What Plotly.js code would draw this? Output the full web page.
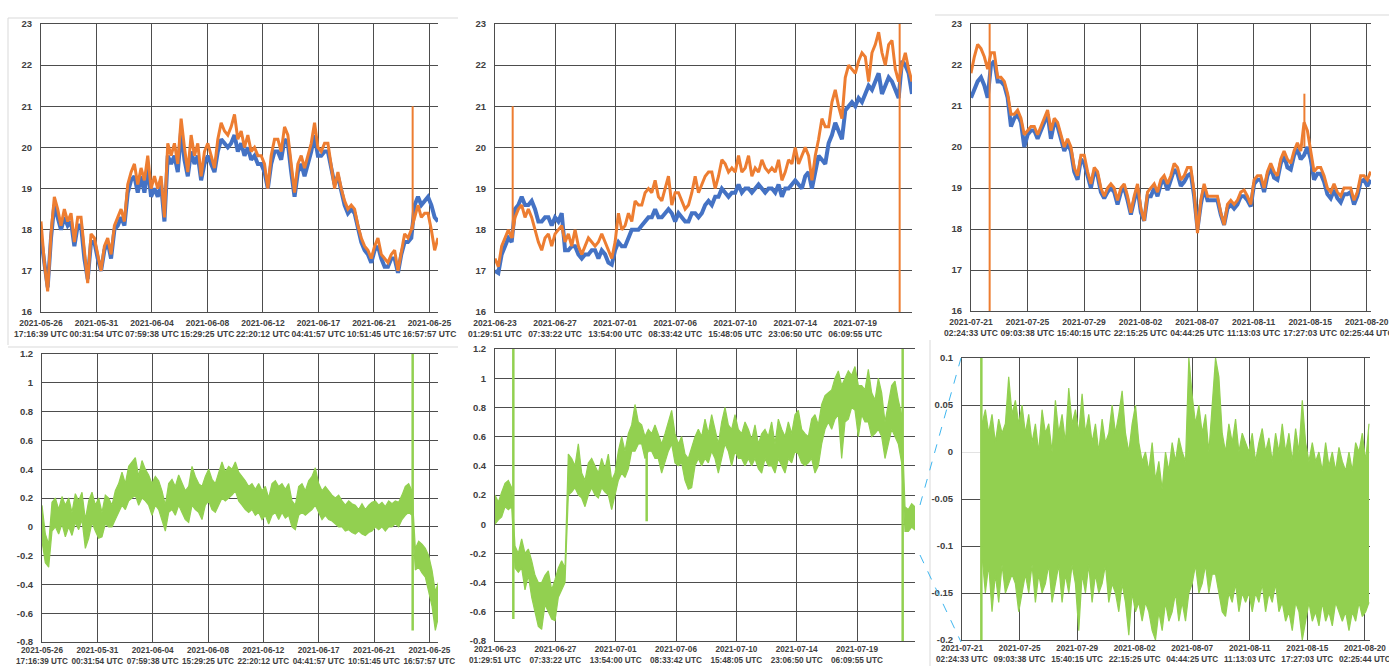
<!DOCTYPE html>
<html><head><meta charset="utf-8">
<script src="https://cdn.plot.ly/plotly-3.0.1.min.js"></script>
<style>html,body{margin:0;padding:0;background:#fff;}#chart{width:1389px;height:666px;}</style>
</head><body><div id="chart"></div>
<script>
// ---------- tick labels ----------
const xLabelsA = ["2021-05-26<br>17:16:39 UTC","2021-05-31<br>00:31:54 UTC","2021-06-04<br>07:59:38 UTC","2021-06-08<br>15:29:25 UTC","2021-06-12<br>22:20:12 UTC","2021-06-17<br>04:41:57 UTC","2021-06-21<br>10:51:45 UTC","2021-06-25<br>16:57:57 UTC"];
const xLabelsB = ["2021-06-23<br>01:29:51 UTC","2021-06-27<br>07:33:22 UTC","2021-07-01<br>13:54:00 UTC","2021-07-06<br>08:33:42 UTC","2021-07-10<br>15:48:05 UTC","2021-07-14<br>23:06:50 UTC","2021-07-19<br>06:09:55 UTC"];
const xLabelsC = ["2021-07-21<br>02:24:33 UTC","2021-07-25<br>09:03:38 UTC","2021-07-29<br>15:40:15 UTC","2021-08-02<br>22:15:25 UTC","2021-08-07<br>04:44:25 UTC","2021-08-11<br>11:13:03 UTC","2021-08-15<br>17:27:03 UTC","2021-08-20<br>02:25:44 UTC"];
const yTempVals = [16,17,18,19,20,21,22,23];
const yTempText = ["16","17","18","19","20","21","22","23"];
const yDiffVals = [-0.8,-0.6,-0.4,-0.2,0,0.2,0.4,0.6,0.8,1,1.2];
const yDiffText = ["-0.8","-0.6","-0.4","-0.2","0","0.2","0.4","0.6","0.8","1","1.2"];
const yZoomVals = [-0.2,-0.15,-0.1,-0.05,0,0.05,0.1];
const yZoomText = ["-0.2","-0.15","-0.1","-0.05","0","0.05","0.1"];

// ---------- chart 1 (2021-05-26 .. 2021-06-25) ----------
const orange1 = [18.2,17.2,16.5,17.9,18.8,18.5,18.1,18.5,18.2,18.4,
 17.7,18.3,18.3,17.4,16.7,17.9,17.8,17.4,17.0,17.6,
 17.8,17.4,18.1,18.3,18.5,18.2,19.1,19.4,19.6,19.1,
 19.5,19.2,19.8,19.0,19.3,19.0,19.3,18.3,20.1,19.8,
 20.1,19.6,20.7,20.0,19.4,20.3,19.8,20.1,19.3,19.9,
 20.1,19.8,19.5,20.2,20.6,20.4,20.3,20.5,20.8,20.2,
 20.4,20.0,20.3,19.9,20.0,19.8,19.8,19.6,19.0,19.8,
 20.2,20.2,19.9,20.5,20.3,19.6,18.9,19.6,19.8,19.5,
 19.8,20.1,20.6,20.0,19.9,20.1,20.1,19.6,19.0,19.4,
 19.0,18.7,18.5,18.6,18.5,18.1,17.8,17.6,17.5,17.3,
 17.6,17.8,17.4,17.3,17.2,17.4,17.5,17.0,17.5,17.9,
 17.8,18.0,18.3,18.6,18.3,18.4,18.4,18.0,17.5,17.8];
const blue1 = [17.8,17.1,16.6,17.8,18.6,18.3,18.0,18.3,18.1,18.2,
 17.6,18.1,18.1,17.3,16.8,17.7,17.7,17.3,17.0,17.5,
 17.7,17.3,18.0,18.1,18.3,18.1,18.9,19.2,19.3,18.9,
 19.3,18.9,19.5,18.8,19.0,18.8,19.1,18.2,19.8,19.6,
 19.8,19.4,20.4,19.7,19.3,19.9,19.6,19.8,19.2,19.6,
 19.8,19.6,19.4,19.9,20.2,20.1,20.0,20.1,20.3,19.9,
 20.1,19.8,20.0,19.7,19.8,19.6,19.6,19.4,19.0,19.6,
 19.9,19.9,19.7,20.2,20.1,19.4,18.8,19.4,19.6,19.3,
 19.6,19.9,20.3,19.8,19.8,19.9,19.9,19.5,19.1,19.3,
 18.9,18.6,18.4,18.5,18.4,18.0,17.7,17.5,17.4,17.2,
 17.5,17.6,17.3,17.1,17.1,17.3,17.3,16.95,17.4,17.7,
 17.7,17.8,18.6,18.8,18.6,18.7,18.8,18.6,18.3,18.2];
const orangeSpike1Pos = [111.4], orangeSpike1Lo = [18.0], orangeSpike1Hi = [21.0];

// ---------- chart 4 (difference, same period as chart 1) ----------
const diffHi1 = [0.15,-0.05,-0.12,0.17,0.20,0.12,0.21,0.15,0.20,0.10,
 0.23,0.18,0.24,0.05,0.18,0.24,0.15,0.20,0.10,0.22,
 0.20,0.15,0.25,0.30,0.38,0.30,0.42,0.45,0.48,0.35,
 0.46,0.40,0.36,0.30,0.35,0.32,0.25,0.15,0.30,0.33,
 0.28,0.36,0.30,0.25,0.28,0.42,0.35,0.30,0.28,0.35,
 0.40,0.33,0.30,0.38,0.45,0.38,0.42,0.40,0.45,0.38,
 0.35,0.32,0.28,0.30,0.26,0.30,0.25,0.28,0.20,0.30,
 0.32,0.28,0.30,0.26,0.30,0.18,0.15,0.28,0.30,0.25,
 0.32,0.35,0.41,0.30,0.25,0.28,0.25,0.22,0.20,0.22,
 0.18,0.15,0.18,0.16,0.15,0.12,0.16,0.12,0.15,0.17,
 0.18,0.15,0.17,0.14,0.18,0.16,0.18,0.17,0.22,0.28,
 0.30,0.25,-0.15,-0.10,-0.12,-0.15,-0.20,-0.30,-0.45,-0.38];
const diffLo1 = [-0.10,-0.25,-0.28,-0.03,0.00,-0.05,0.02,-0.07,0.00,-0.06,
 0.03,-0.02,0.05,-0.15,-0.08,0.03,-0.03,-0.08,-0.07,0.02,
 0.00,0.00,0.05,0.10,0.15,0.12,0.18,0.20,0.22,0.15,
 0.20,0.18,0.15,0.08,0.15,0.12,0.05,-0.03,0.10,0.12,
 0.08,0.15,0.10,0.05,0.03,0.15,0.12,0.10,0.05,0.15,
 0.18,0.12,0.10,0.15,0.20,0.18,0.20,0.22,0.25,0.18,
 0.15,0.12,0.10,0.12,0.08,0.10,0.05,0.08,0.02,0.08,
 0.10,0.05,0.10,0.06,0.08,0.00,-0.02,0.08,0.10,0.08,
 0.10,0.12,0.15,0.10,0.05,0.08,0.05,0.04,0.02,0.00,
 0.00,-0.03,-0.02,-0.04,-0.05,-0.03,-0.05,-0.06,-0.04,-0.03,
 0.00,-0.02,0.00,-0.03,0.00,0.00,0.02,0.00,0.05,0.08,
 0.10,0.08,-0.30,-0.28,-0.32,-0.35,-0.45,-0.55,-0.72,-0.62];
const diffSpike1Pos = [111.2], diffSpike1Lo = [-0.72], diffSpike1Hi = [1.2];

// ---------- chart 2 (2021-06-23 .. 2021-07-21) ----------
const orange2 = [17.3,17.1,17.6,17.8,18.0,17.8,18.3,18.5,18.6,18.3,
 18.5,18.3,18.0,17.7,17.5,17.8,17.9,17.6,17.9,18.0,
 18.1,17.7,17.9,17.6,18.0,17.6,17.4,17.6,17.8,17.7,
 17.6,17.7,17.9,17.7,17.5,17.3,17.7,18.4,18.0,18.1,
 18.4,18.2,18.7,18.6,18.6,18.9,19.0,18.9,19.2,18.8,
 18.7,19.0,19.3,18.6,18.9,18.9,18.7,18.5,18.6,18.9,
 19.3,18.9,19.1,19.3,19.4,19.4,19.0,19.3,19.7,19.6,
 19.4,19.5,19.4,19.8,19.4,19.5,19.8,19.3,19.5,19.4,
 19.7,19.5,19.4,19.5,19.4,19.7,19.2,19.4,19.7,19.6,
 20.0,19.6,19.8,20.0,19.8,19.2,19.8,20.2,20.7,20.5,
 20.5,21.1,21.4,21.0,20.7,21.7,22.0,21.9,21.8,22.1,
 22.3,22.2,21.6,22.3,22.5,22.8,22.3,22.0,22.5,22.6,
 21.9,21.6,22.0,22.3,21.9,21.6];
const blue2 = [17.0,16.95,17.4,17.6,17.8,17.7,18.5,18.6,18.8,18.6,
 18.6,18.7,18.5,18.2,18.2,18.3,18.3,18.1,18.3,18.2,
 18.4,17.5,17.5,17.6,17.6,17.4,17.3,17.4,17.4,17.5,
 17.5,17.3,17.5,17.4,17.2,17.15,17.5,17.7,17.6,17.6,
 17.8,18.0,18.0,18.0,18.1,18.2,18.3,18.3,18.5,18.3,
 18.3,18.4,18.5,18.4,18.2,18.4,18.3,18.2,18.2,18.4,
 18.4,18.3,18.4,18.6,18.7,18.6,18.8,18.8,19.0,18.9,
 18.8,18.9,18.9,19.1,18.9,19.0,19.0,18.9,19.0,19.1,
 19.0,18.9,19.0,19.0,18.9,19.1,18.8,19.0,19.0,19.1,
 19.2,19.1,19.0,19.3,19.4,19.0,19.4,19.8,19.7,19.6,
 20.1,20.3,20.6,20.4,20.2,20.9,21.0,21.1,21.0,21.2,
 21.1,21.3,21.5,21.4,21.6,21.8,21.3,21.5,21.7,21.6,
 21.4,21.2,22.1,22.0,21.8,21.3];
const orangeSpike2Pos = [5.3, 121.3], orangeSpike2Lo = [17.8, 16], orangeSpike2Hi = [21.0, 23];

// ---------- chart 5 (difference, same period as chart 2) ----------
const diffHi2 = [0.20,0.15,0.22,0.28,0.30,0.25,-0.15,-0.20,-0.10,-0.20,
 -0.17,-0.25,-0.35,-0.40,-0.40,-0.35,-0.32,-0.45,-0.38,-0.30,
 -0.25,-0.30,0.48,0.45,0.40,0.55,0.35,0.30,0.42,0.45,
 0.40,0.35,0.45,0.38,0.48,0.30,0.35,0.50,0.60,0.50,
 0.62,0.68,0.82,0.70,0.68,0.60,0.65,0.62,0.68,0.62,
 0.55,0.62,0.70,0.78,0.62,0.55,0.60,0.48,0.45,0.52,
 0.60,0.65,0.60,0.72,0.62,0.75,0.65,0.55,0.70,0.80,
 0.68,0.65,0.75,0.65,0.62,0.70,0.65,0.58,0.68,0.55,
 0.62,0.65,0.60,0.70,0.55,0.72,0.65,0.60,0.70,0.62,
 0.75,0.78,0.65,0.62,0.60,0.72,0.75,0.68,0.82,0.88,
 0.90,0.92,1.00,1.05,0.95,1.00,1.05,1.02,1.08,0.95,
 0.95,0.92,1.06,0.90,0.85,1.00,0.90,0.70,0.82,0.95,
 0.98,0.85,0.75,0.12,0.10,0.14,0.12];
const diffLo2 = [0.00,0.03,0.05,0.12,0.10,0.12,-0.30,-0.33,-0.30,-0.45,
 -0.35,-0.50,-0.60,-0.70,-0.72,-0.55,-0.60,-0.65,-0.66,-0.50,
 -0.45,-0.40,0.20,0.22,0.25,0.20,0.18,0.12,0.20,0.25,
 0.20,0.18,0.25,0.22,0.20,0.10,0.20,0.30,0.35,0.32,
 0.38,0.50,0.50,0.55,0.55,0.45,0.50,0.50,0.45,0.45,
 0.35,0.42,0.50,0.55,0.42,0.40,0.42,0.30,0.24,0.25,
 0.40,0.45,0.40,0.45,0.42,0.50,0.45,0.35,0.45,0.55,
 0.50,0.40,0.50,0.45,0.45,0.40,0.45,0.40,0.45,0.38,
 0.35,0.45,0.40,0.40,0.35,0.45,0.40,0.35,0.45,0.42,
 0.50,0.48,0.42,0.40,0.42,0.45,0.35,0.40,0.55,0.65,
 0.70,0.65,0.72,0.75,0.45,0.70,0.72,0.80,0.78,0.60,
 0.75,0.70,0.70,0.60,0.62,0.65,0.60,0.45,0.55,0.65,
 0.60,0.55,0.42,-0.05,-0.05,-0.02,-0.04];
const diffSpike2Pos = [5.5, 45.5, 122.3], diffSpike2Lo = [-0.65, 0.02, -0.8], diffSpike2Hi = [1.2, 0.5, 1.2];

// ---------- chart 3 (2021-07-21 .. 2021-08-20) ----------
const orange3 = [21.8,22.2,22.5,22.4,22.2,21.9,22.3,22.3,21.7,21.7,
 21.6,21.3,20.8,20.8,20.9,20.7,20.3,20.4,20.5,20.5,
 20.3,20.5,20.7,20.9,20.4,20.7,20.6,20.3,20.0,20.2,
 20.0,19.5,19.3,19.8,19.8,19.4,19.1,19.5,19.4,19.0,
 18.8,19.0,19.1,19.0,18.7,19.0,19.1,18.8,18.4,18.8,
 19.1,18.5,18.2,18.9,19.0,19.1,18.9,19.2,19.3,19.1,
 19.3,19.6,19.5,19.2,19.3,19.5,19.5,18.9,17.9,18.7,
 19.1,18.8,18.8,18.8,18.8,18.4,18.1,18.6,18.7,18.6,
 18.7,18.9,18.95,18.8,18.6,19.2,19.3,19.3,19.0,19.4,
 19.6,19.4,19.3,19.7,19.9,19.7,19.6,19.9,20.1,19.9,
 20.6,20.4,19.9,19.4,19.5,19.5,19.3,19.0,18.9,19.1,
 18.9,18.8,19.0,19.0,19.0,18.7,18.9,19.3,19.3,19.2,
 19.4];
const blue3 = [21.2,21.4,21.6,21.7,21.5,21.2,22.0,22.1,21.6,21.6,
 21.5,21.2,20.5,20.7,20.8,20.6,20.0,20.3,20.4,20.4,
 20.2,20.4,20.6,20.8,20.2,20.6,20.5,20.2,19.9,20.1,
 19.9,19.4,19.2,19.7,19.6,19.3,19.0,19.4,19.3,18.9,
 18.75,18.9,19.0,18.9,18.6,18.9,19.0,18.7,18.35,18.7,
 19.0,18.4,18.2,18.8,18.8,19.0,18.8,19.1,19.2,18.95,
 19.2,19.45,19.35,19.05,19.15,19.3,19.35,18.8,18.0,18.6,
 19.0,18.7,18.7,18.7,18.7,18.35,18.1,18.5,18.6,18.5,
 18.6,18.8,18.8,18.7,18.55,19.1,19.2,19.2,18.9,19.3,
 19.5,19.25,19.2,19.6,19.8,19.5,19.45,19.8,19.95,19.7,
 19.8,20.0,19.7,19.2,19.35,19.35,19.15,18.85,18.75,18.95,
 18.75,18.65,18.85,18.85,18.9,18.6,18.8,19.15,19.2,19.05,
 19.2];
const orangeSpike3Pos = [5.6, 100.1], orangeSpike3Lo = [16, 20.0], orangeSpike3Hi = [23, 21.3];

// ---------- chart 6 (difference, zoomed, same period as chart 3) ----------
const diff3Start = 6;
const diffHi3 = [0.03,0.045,0.02,0.04,0.01,0.035,0.02,0.03,0.08,0.04,
 0.055,0.03,0.05,0.02,0.04,0.01,0.03,0.0,0.045,0.02,
 0.03,0.0,0.055,0.02,0.04,0.01,0.068,0.03,0.045,0.02,
 0.062,0.02,0.04,0.01,0.03,0.0,0.035,0.01,0.02,0.05,
 0.02,0.04,0.065,0.02,0.0,0.03,0.05,0.01,-0.01,0.0,
 -0.02,0.01,-0.03,-0.01,-0.04,0.0,-0.02,0.01,-0.01,0.015,
 0.0,-0.01,0.1,0.06,0.03,0.05,0.02,0.04,0.0,0.055,
 0.1,0.08,0.02,0.0,0.03,0.01,0.035,0.0,0.02,0.01,
 0.0,0.02,-0.01,0.01,0.025,0.0,0.015,-0.01,0.02,0.0,
 0.03,0.0,0.02,-0.01,0.025,0.0,0.055,0.01,-0.01,0.01,
 -0.01,0.0,-0.02,0.01,-0.015,0.0,-0.02,0.005,-0.01,-0.02,
 0.0,-0.02,0.01,0.0,0.02,-0.01,0.03];
const diffLo3 = [-0.11,-0.15,-0.12,-0.17,-0.13,-0.16,-0.12,-0.15,-0.14,-0.13,
 -0.14,-0.17,-0.15,-0.13,-0.15,-0.12,-0.16,-0.13,-0.15,-0.14,
 -0.12,-0.16,-0.14,-0.12,-0.16,-0.13,-0.15,-0.12,-0.14,-0.19,
 -0.13,-0.15,-0.12,-0.16,-0.13,-0.15,-0.14,-0.12,-0.16,-0.14,
 -0.15,-0.17,-0.14,-0.16,-0.195,-0.15,-0.17,-0.16,-0.18,-0.16,
 -0.17,-0.19,-0.2,-0.17,-0.19,-0.16,-0.18,-0.17,-0.15,-0.18,
 -0.16,-0.18,-0.15,-0.14,-0.12,-0.15,-0.14,-0.12,-0.15,-0.13,
 -0.13,-0.15,-0.17,-0.175,-0.15,-0.16,-0.14,-0.17,-0.15,-0.16,
 -0.15,-0.17,-0.15,-0.16,-0.14,-0.17,-0.15,-0.16,-0.14,-0.17,
 -0.16,-0.18,-0.17,-0.19,-0.16,-0.17,-0.2,-0.18,-0.16,-0.18,
 -0.17,-0.185,-0.16,-0.18,-0.17,-0.185,-0.16,-0.17,-0.18,-0.17,
 -0.19,-0.17,-0.18,-0.16,-0.175,-0.17,-0.16];
const diffSpike3Pos = [5.8], diffSpike3Lo = [-0.2], diffSpike3Hi = [0.1];

// ---------- styling ----------
const BLUE = '#4472C4', ORANGE = '#ED7D31', GREEN = '#92D050', GRID = '#4d4d4d';
const W = 1389, H = 666;
const FONT = 'Liberation Sans, Arial, sans-serif';
function dx(a, b) { return [a / W, b / W]; }
function dy(top, bottom) { return [1 - bottom / H, 1 - top / H]; }
function idx(n, start) { return Array.from({length: n}, (_, i) => start + i); }

function line(n, ys, color, width, start) {
  return {type:'scatter', mode:'lines', x: idx(ys.length, start || 0), y: ys,
    xaxis:'x'+n, yaxis:'y'+n, line:{color, width}, hoverinfo:'skip'};
}
function spikes(n, pos, lo, hi, color, width) {
  const x = [], y = [];
  pos.forEach((p, i) => { x.push(p, p, null); y.push(lo[i], hi[i], null); });
  return {type:'scatter', mode:'lines', x, y, xaxis:'x'+n, yaxis:'y'+n,
    line:{color, width}, connectgaps:false, hoverinfo:'skip'};
}
function band(n, lo, hi, start) {
  const xs = idx(lo.length, start || 0);
  return [
    {type:'scatter', mode:'lines', x: xs, y: lo, xaxis:'x'+n, yaxis:'y'+n,
      line:{color:GREEN, width:1.2}, hoverinfo:'skip'},
    {type:'scatter', mode:'lines', x: xs, y: hi, xaxis:'x'+n, yaxis:'y'+n,
      line:{color:GREEN, width:1.2}, fill:'tonexty', fillcolor:GREEN, hoverinfo:'skip'}
  ];
}

const data = [
  line('', blue1, BLUE, 4), line('', orange1, ORANGE, 3),
  spikes('', orangeSpike1Pos, orangeSpike1Lo, orangeSpike1Hi, ORANGE, 2),
  line(2, blue2, BLUE, 4), line(2, orange2, ORANGE, 3),
  spikes(2, orangeSpike2Pos, orangeSpike2Lo, orangeSpike2Hi, ORANGE, 2),
  line(3, blue3, BLUE, 4), line(3, orange3, ORANGE, 3),
  spikes(3, orangeSpike3Pos, orangeSpike3Lo, orangeSpike3Hi, ORANGE, 2),
  ...band(4, diffLo1, diffHi1),
  spikes(4, diffSpike1Pos, diffSpike1Lo, diffSpike1Hi, GREEN, 2.5),
  ...band(5, diffLo2, diffHi2),
  spikes(5, diffSpike2Pos, diffSpike2Lo, diffSpike2Hi, GREEN, 2.5),
  ...band(6, diffLo3, diffHi3, diff3Start),
  spikes(6, diffSpike3Pos, diffSpike3Lo, diffSpike3Hi, GREEN, 2.5)
];

function xAx(domain, range, step, labels, anchor, bottomRow) {
  return {domain, range, anchor, tickmode:'array', tickvals: labels.map((_, k) => k * step),
    ticktext: labels, tickangle: 0, showgrid: true, gridcolor: GRID, gridwidth: 1,
    showline: true, linecolor: GRID, linewidth: 1, mirror: true, zeroline: false, ticks: '',
    ticklabeloverflow: 'allow', ticklabelstandoff: bottomRow ? 0 : 3,
    tickfont: {family: FONT, size: bottomRow ? 8.2 : 8.5, color: '#404040', weight: 700},
    fixedrange: true};
}
function yAx(domain, range, vals, text, anchor, zeroLight) {
  const a = {domain, range, anchor, tickmode:'array', tickvals: vals, ticktext: text,
    showgrid: true, gridcolor: GRID, gridwidth: 1, showline: true, linecolor: GRID, linewidth: 1,
    zeroline: false, ticks: '', ticklabelstandoff: 6,
    tickfont: {family: FONT, size: 9.5, color: '#404040', weight: 700}, fixedrange: true};
  if (zeroLight) { a.zeroline = true; a.zerolinecolor = '#e3e3e3'; a.zerolinewidth = 1; }
  return a;
}
const LIGHT = '#d9d9d9';
function pline(x0, y0, x1, y1, color, dash) {
  return {type:'line', xref:'paper', yref:'paper', x0: x0 / W, y0: 1 - y0 / H, x1: x1 / W, y1: 1 - y1 / H,
    line:{color, width:1, dash: dash || 'solid'}};
}

const layout = {
  width: W, height: H, margin: {l:0, r:0, t:0, b:0}, showlegend: false,
  paper_bgcolor: '#fff', plot_bgcolor: '#fff', hovermode: false,
  xaxis:  xAx(dx(41, 438),  [0, 119],   16.63, xLabelsA, 'y'),
  yaxis:  yAx(dy(24, 312),  [16, 23], yTempVals, yTempText, 'x'),
  xaxis2: xAx(dx(495, 912), [0, 125],   18.0,  xLabelsB, 'y2'),
  yaxis2: yAx(dy(24, 312),  [16, 23], yTempVals, yTempText, 'x2'),
  xaxis3: xAx(dx(971, 1371),[0, 120.1], 16.97, xLabelsC, 'y3'),
  yaxis3: yAx(dy(24, 311),  [16, 23], yTempVals, yTempText, 'x3'),
  xaxis4: xAx(dx(42, 438),  [0, 118.8], 16.6,  xLabelsA, 'y4', true),
  yaxis4: yAx(dy(354, 642), [-0.8, 1.2], yDiffVals, yDiffText, 'x4'),
  xaxis5: xAx(dx(495, 915), [0, 126],   18.1,  xLabelsB, 'y5', true),
  yaxis5: yAx(dy(349, 641), [-0.8, 1.2], yDiffVals, yDiffText, 'x5'),
  xaxis6: xAx(dx(962, 1370),[0, 122.3], 17.25, xLabelsC, 'y6', true),
  yaxis6: yAx(dy(358, 640), [-0.2, 0.1], yZoomVals, yZoomText, 'x6', true),
  shapes: [
    pline(8, 18, 458, 18, LIGHT), pline(8, 18, 8, 345, LIGHT), pline(8, 347, 458, 347, LIGHT),
    pline(935, 15, 1389, 15, LIGHT), pline(930, 340, 930, 666, LIGHT),
    pline(920, 505, 961, 358, '#3fb6ef', 'dash'), pline(920, 555, 961, 642, '#3fb6ef', 'dash')
  ]
};
Plotly.newPlot('chart', data, layout, {displayModeBar: false, staticPlot: true});
</script>
</body></html>
